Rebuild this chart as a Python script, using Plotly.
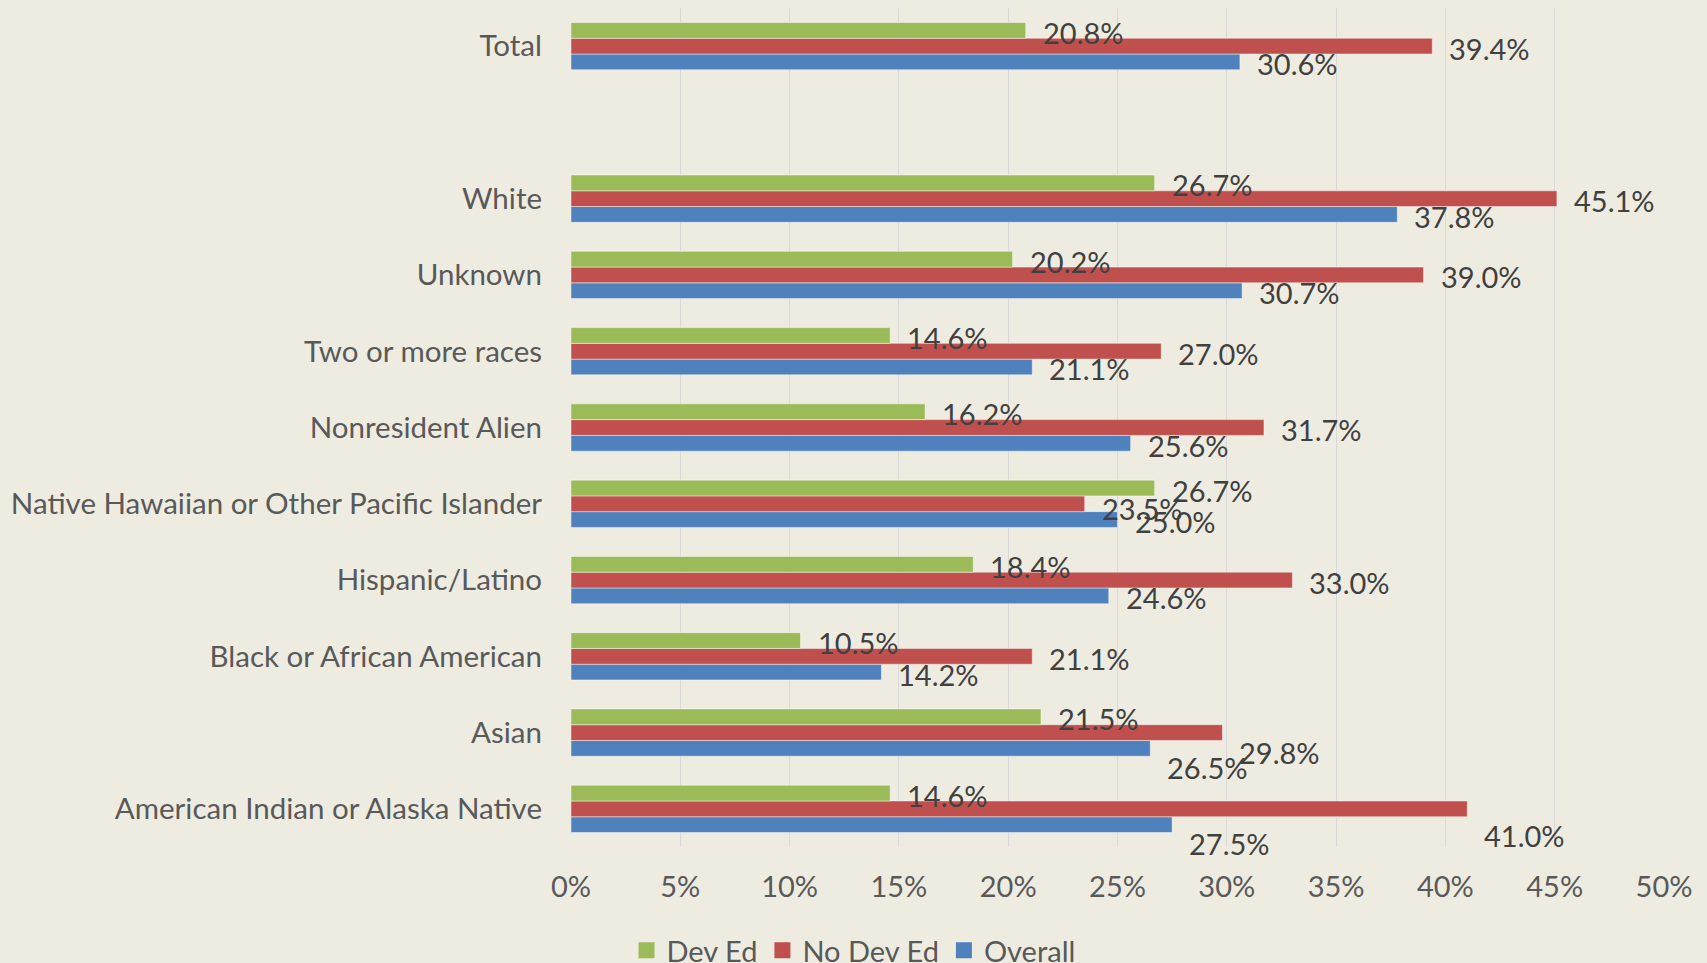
import plotly.graph_objects as go

# Categories listed bottom -> top (plotly categorical y runs upward); " " is the blank gap row
categories = [
    "American Indian or Alaska Native",
    "Asian",
    "Black or African American",
    "Hispanic/Latino",
    "Native Hawaiian or Other Pacific Islander",
    "Nonresident Alien",
    "Two or more races",
    "Unknown",
    "White",
    " ",
    "Total",
]
dev_ed = [14.6, 21.5, 10.5, 18.4, 26.7, 16.2, 14.6, 20.2, 26.7, None, 20.8]
no_dev_ed = [41.0, 29.8, 21.1, 33.0, 23.5, 31.7, 27.0, 39.0, 45.1, None, 39.4]
overall = [27.5, 26.5, 14.2, 24.6, 25.0, 25.6, 21.1, 30.7, 37.8, None, 30.6]
x_ticks = [0, 5, 10, 15, 20, 25, 30, 35, 40, 45, 50]

# ---- style ----
W, H = 1707, 963
ML, MR, MT, MB = 571, 43, 8, 116
BG = "#EEECE1"
FONT = "Lato"
FS = 29
BARGAP = 0.38
series = [  # bottom -> top within a group
    ("Overall", overall, "#4F81BD"),
    ("No Dev Ed", no_dev_ed, "#C0504D"),
    ("Dev Ed", dev_ed, "#9BBB59"),
]
# Excel label nudges (pixels downward) for a few overlapping labels
label_drop = {
    ("Asian", "No Dev Ed"): 20,
    ("Asian", "Overall"): 19,
    ("American Indian or Alaska Native", "No Dev Ed"): 27,
    ("American Indian or Alaska Native", "Overall"): 19,
    ("Native Hawaiian or Other Pacific Islander", "No Dev Ed"): 5,
}

fig = go.Figure()
for name, vals, color in series:
    fig.add_trace(go.Bar(
        y=categories, x=[v / 100 if v is not None else None for v in vals],
        name=name, orientation="h", showlegend=False,
        marker=dict(color=color, line=dict(color="rgba(255,255,255,0.45)", width=1)),
        hoverinfo="skip",
    ))
# legend entries with larger square swatches
for name, vals, color in series:
    fig.add_trace(go.Scatter(
        x=[None], y=[None], mode="markers", name=name,
        marker=dict(symbol="square", size=16, color=color),
        hoverinfo="skip",
    ))

plot_h = H - MT - MB
slot = plot_h / len(categories)
bar_px = slot * (1 - BARGAP) / len(series)
annotations = []
for i, (name, vals, color) in enumerate(series):
    offset = (i - (len(series) - 1) / 2) * bar_px
    for cat, v in zip(categories, vals):
        if v is None:
            continue
        drop = label_drop.get((cat, name), 2)
        annotations.append(dict(
            x=v / 100, y=cat, xref="x", yref="y",
            text=f"{v:.1f}%", showarrow=False,
            xanchor="left", yanchor="middle",
            xshift=15, yshift=offset - drop,
            font=dict(family=FONT, size=FS, color="#404040"),
        ))

fig.update_layout(
    width=W, height=H,
    margin=dict(l=ML, r=MR, t=MT, b=MB, pad=0),
    paper_bgcolor=BG, plot_bgcolor=BG,
    barmode="group", bargap=BARGAP, bargroupgap=0,
    font=dict(family=FONT, size=FS, color="#595959"),
    showlegend=True,
    legend=dict(
        orientation="h", traceorder="reversed",
        xref="container", yref="container",
        x=0.5, xanchor="center", y=0.013, yanchor="middle",
        font=dict(family=FONT, size=FS, color="#595959"),
        bgcolor="rgba(0,0,0,0)", itemwidth=30,
    ),
    annotations=annotations,
    xaxis=dict(
        range=[0, 0.5], tickvals=[t / 100 for t in x_ticks],
        ticktext=[f"{t}%" for t in x_ticks],
        showgrid=True, gridcolor="#D9D9D9", gridwidth=1,
        zeroline=False, showline=False, ticks="",
        ticklabelstandoff=20, fixedrange=True,
    ),
    yaxis=dict(
        categoryorder="array", categoryarray=categories,
        range=[-0.5, len(categories) - 0.5],
        showgrid=False, zeroline=False, showline=False, ticks="",
        ticklabelstandoff=28, fixedrange=True,
        tickfont=dict(family=FONT, size=29.5, color="#595959"),
    ),
)

fig.write_html(
    "out.html",
    config={"displayModeBar": False},
    post_script="document.body.style.margin='0';document.body.style.overflow='hidden';",
)
